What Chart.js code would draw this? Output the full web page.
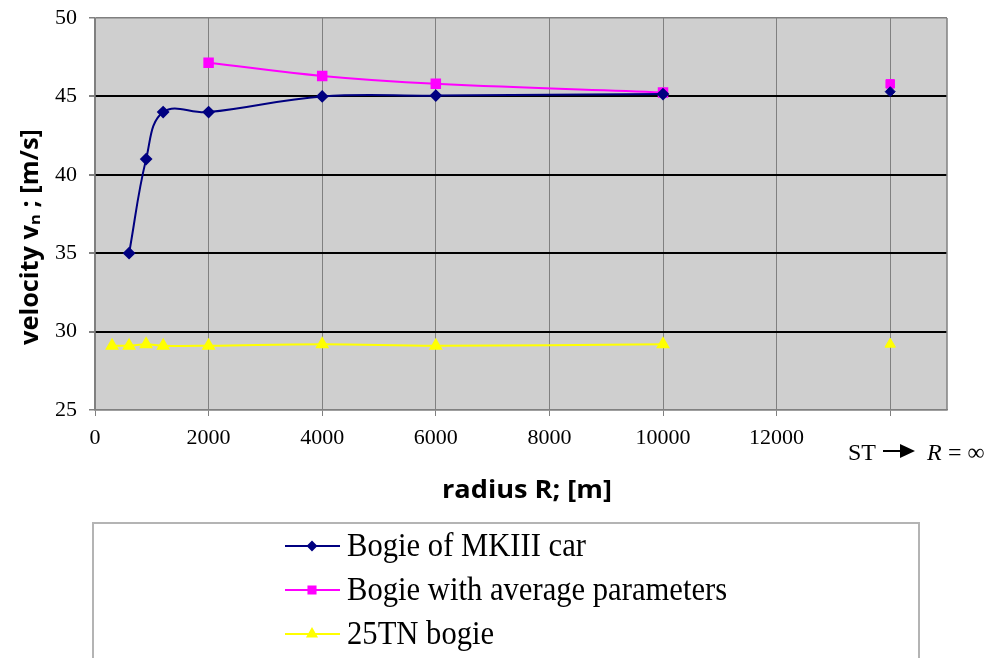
<!DOCTYPE html>
<html>
<head>
<meta charset="utf-8">
<style>
  html, body { margin: 0; padding: 0; background: #fff; }
</style>
</head>
<body>
<canvas id="myChart" width="997" height="658"></canvas>
<script src="https://cdn.jsdelivr.net/npm/chart.js"></script>
<script>
// curve radius in metres; ST (straight track) is put past the last labelled tick
const radii = [300, 600, 900, 1200, 2000, 4000, 6000, 10000];
const stRadius = 14000;
const mk3 = [null, 35, 41, 44, 44, 45, 45.05, 45.15];
const avgParams = [null, null, null, null, 47.15, 46.3, 45.8, 45.25];
const tn25 = [29.1, 29.1, 29.2, 29.1, 29.1, 29.2, 29.1, 29.2];
const stValues = [45.3, 45.8, 29.2];
const seriesNames = ['Bogie of MKIII car', 'Bogie with average parameters', '25TN bogie'];
const seriesColors = ['#000080', '#ff00ff', '#ffff00'];
const seriesMarkers = ['rectRot', 'rect', 'triangle'];
const markerSizes = [5, 6, 6];
const xTicks = [0, 2000, 4000, 6000, 8000, 10000, 12000, 14000];
const yTicks = [25, 30, 35, 40, 45, 50];

const toPoints = vals => radii.map((r, i) => ({x: r, y: vals[i]})).filter(p => p.y !== null);

const lineSet = (i, vals) => ({
    label: seriesNames[i],
    data: toPoints(vals),
    borderColor: seriesColors[i],
    backgroundColor: seriesColors[i],
    borderWidth: 2,
    pointStyle: seriesMarkers[i],
    pointRadius: markerSizes[i],
    pointHoverRadius: markerSizes[i],
    tension: 0.4,
    fill: false
});
const stSet = i => ({
    label: seriesNames[i] + ' ST',
    data: [{x: stRadius, y: stValues[i]}],
    borderColor: seriesColors[i],
    backgroundColor: seriesColors[i],
    showLine: false,
    pointStyle: seriesMarkers[i],
    pointRadius: markerSizes[i]
});

const serif = '"Liberation Serif", "Times New Roman", serif';
const sans = '"Open Sans", Lato, sans-serif';

// draw text squeezed/stretched horizontally so it spans a given width
function fitText(ctx, text, cx, cy, width) {
    const w = ctx.measureText(text).width;
    ctx.save();
    ctx.translate(cx, cy);
    ctx.scale(width / w, 1);
    ctx.textAlign = 'center';
    ctx.fillText(text, 0, 0);
    ctx.restore();
}

const plotBg = {
    id: 'plotBg',
    beforeDraw: (chart) => {
        const {ctx, chartArea: a} = chart;
        ctx.save();
        ctx.fillStyle = '#fff';
        ctx.fillRect(0, 0, chart.width, chart.height);
        ctx.fillStyle = '#cfcfcf';
        ctx.fillRect(a.left, a.top, a.right - a.left, a.bottom - a.top);
        ctx.restore();
    }
};

const extras = {
    id: 'extras',
    afterDraw: (chart) => {
        const {ctx, chartArea: a} = chart;
        ctx.save();
        // right border of plot
        ctx.strokeStyle = '#808080';
        ctx.lineWidth = 1.5;
        ctx.beginPath();
        ctx.moveTo(a.right, a.top);
        ctx.lineTo(a.right, a.bottom);
        ctx.stroke();

        // axis titles
        ctx.fillStyle = '#000';
        ctx.font = 'bold 25px ' + sans;
        ctx.textBaseline = 'middle';
        fitText(ctx, 'radius R; [m]', 527, 491, 170);
        ctx.save();
        ctx.translate(31, 237);
        ctx.rotate(-Math.PI / 2);
        fitText(ctx, 'velocity v\u2099 ; [m/s]', 0, 0, 216);
        ctx.restore();

        // ST -> R = inf
        ctx.textAlign = 'left';
        ctx.font = '24px ' + serif;
        ctx.fillText('ST', 848, 454);
        ctx.lineWidth = 2;
        ctx.strokeStyle = '#000';
        ctx.beginPath();
        ctx.moveTo(883, 451);
        ctx.lineTo(905, 451);
        ctx.stroke();
        ctx.beginPath();
        ctx.moveTo(915, 451);
        ctx.lineTo(900, 444);
        ctx.lineTo(900, 458);
        ctx.closePath();
        ctx.fill();
        ctx.font = 'italic 24px ' + serif;
        ctx.fillText('R', 927, 454);
        ctx.font = '24px ' + serif;
        ctx.fillText('= \u221e', 948, 454);

        // legend box
        ctx.strokeStyle = '#b4b4b4';
        ctx.lineWidth = 2;
        ctx.strokeRect(93, 523, 826, 200);
        const rows = [546, 590, 634];
        ctx.font = '33px ' + serif;
        const squeeze = 239 / ctx.measureText(seriesNames[0]).width;
        seriesNames.forEach((name, i) => {
            ctx.strokeStyle = seriesColors[i];
            ctx.fillStyle = seriesColors[i];
            ctx.lineWidth = 2;
            ctx.beginPath();
            ctx.moveTo(285, rows[i]);
            ctx.lineTo(340, rows[i]);
            ctx.stroke();
            Chart.helpers.drawPoint(ctx, {pointStyle: seriesMarkers[i], radius: markerSizes[i] - 1, borderWidth: 1}, 312, rows[i]);
            ctx.fillStyle = '#000';
            ctx.save();
            ctx.translate(347, rows[i] + 1);
            ctx.scale(squeeze, 1);
            ctx.textAlign = 'left';
            ctx.fillText(name, 0, 0);
            ctx.restore();
        });
        ctx.restore();
    }
};

const ctx = document.getElementById('myChart');
const myChart = new Chart(ctx, {
    type: 'line',
    data: {
        datasets: [
            lineSet(0, mk3), lineSet(1, avgParams), lineSet(2, tn25),
            stSet(0), stSet(1), stSet(2)
        ]
    },
    options: {
        responsive: false,
        animation: false,
        devicePixelRatio: 1,
        layout: {padding: {top: 18, right: 50, bottom: 208, left: 0}},
        plugins: {
            legend: {display: false},
            tooltip: {enabled: false}
        },
        scales: {
            x: {
                type: 'linear',
                min: 0,
                max: 15000,
                afterBuildTicks: s => { s.ticks = xTicks.map(v => ({value: v})); },
                afterFit: s => { s.height = 40; s.paddingLeft = 0; s.paddingRight = 0; },
                ticks: {
                    callback: v => (v === stRadius ? '' : String(v)),
                    color: '#000',
                    font: {family: serif, size: 22},
                    padding: 9,
                    maxRotation: 0
                },
                grid: {color: '#808080', lineWidth: 1, tickLength: 6, tickColor: '#808080'},
                border: {color: '#808080', width: 1.5}
            },
            y: {
                min: 25,
                max: 50,
                afterBuildTicks: s => { s.ticks = yTicks.map(v => ({value: v})); },
                afterFit: s => { s.width = 95; s.paddingTop = 0; s.paddingBottom = 0; },
                ticks: {
                    color: '#000',
                    font: {family: serif, size: 22},
                    padding: 12
                },
                grid: {
                    color: c => (c.tick.value === 25 || c.tick.value === 50 ? '#808080' : '#000'),
                    lineWidth: c => (c.tick.value === 25 || c.tick.value === 50 ? 1.5 : 2),
                    tickLength: 6,
                    tickColor: '#808080'
                },
                border: {color: '#808080', width: 1.5}
            }
        }
    },
    plugins: [plotBg, extras]
});
</script>
</body>
</html>
